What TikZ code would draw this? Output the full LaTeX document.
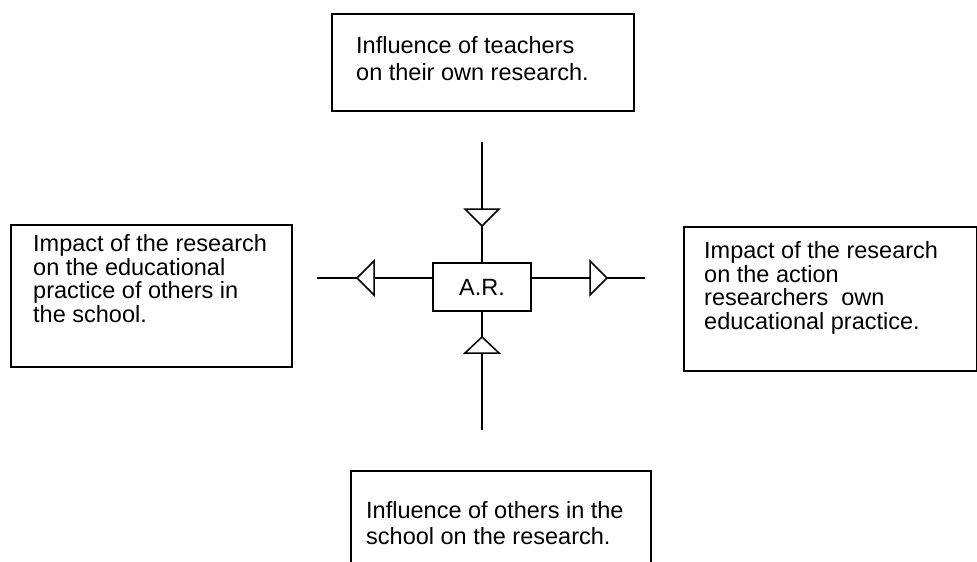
\documentclass[tikz,border=0pt]{standalone}
\usepackage{fontspec}
\setmainfont{Liberation Sans}
\begin{document}
\begin{tikzpicture}[x=1pt,y=-1pt,
  box/.style={draw, line width=1.6pt, inner sep=0pt, anchor=north west},
  txt/.style={anchor=base west, align=left, inner sep=0pt},
  link/.style={line width=1.5pt},
  tri/.style={draw, fill=white, line width=1.5pt, line join=miter}]
\path[use as bounding box, clip] (0,0) rectangle (977,562);

% outer boxes (text anchored at the baseline of its last line)
\node[box, minimum width=302pt, minimum height=97pt] (topbox) at (331,13) {};
\node[txt, font=\fontsize{23.5}{27}\selectfont] (toptxt) at (356,80) {Influence of teachers\\on their own research.};

\node[box, minimum width=281pt, minimum height=142pt] (leftbox) at (10,224) {};
\node[txt, font=\fontsize{23.5}{23.5}\selectfont] (lefttxt) at (33,322) {Impact of the research\\on the educational\\practice of others in\\the school.};

\node[box, minimum width=293pt, minimum height=144pt] (rightbox) at (683,226) {};
\node[txt, font=\fontsize{23.5}{23.5}\selectfont] (righttxt) at (704,329) {Impact of the research\\on the action\\researchers\ \ own\\educational practice.};

\node[box, minimum width=300pt, minimum height=110pt] (botbox) at (350,470) {};
\node[txt, font=\fontsize{23.5}{26}\selectfont] (bottxt) at (366,544) {Influence of others in the\\school on the research.};

% centre
\node[draw, line width=1.6pt, minimum width=98pt, minimum height=48pt, inner sep=0pt,
      font=\fontsize{23.5}{25}\selectfont] (ar) at (482,287) {A.R.};

\coordinate (tend) at (482,142);
\coordinate (bend) at (482,430);
\coordinate (lend) at (317,278);
\coordinate (rend) at (645,278);

\draw[link] (tend) -- (ar.north);
\draw[link] (ar.south) -- (bend);
\draw[link] (lend) -- ([yshift=9pt]ar.west);
\draw[link] ([yshift=9pt]ar.east) -- (rend);

% triangles
\draw[tri] (465,209) -- (499,209) -- (482,226) -- cycle;
\draw[tri] (482,337) -- (499,353) -- (465,353) -- cycle;
\draw[tri] (357,278) -- (374,261) -- (374,295) -- cycle;
\draw[tri] (607,278) -- (590,261) -- (590,295) -- cycle;
\end{tikzpicture}
\end{document}
